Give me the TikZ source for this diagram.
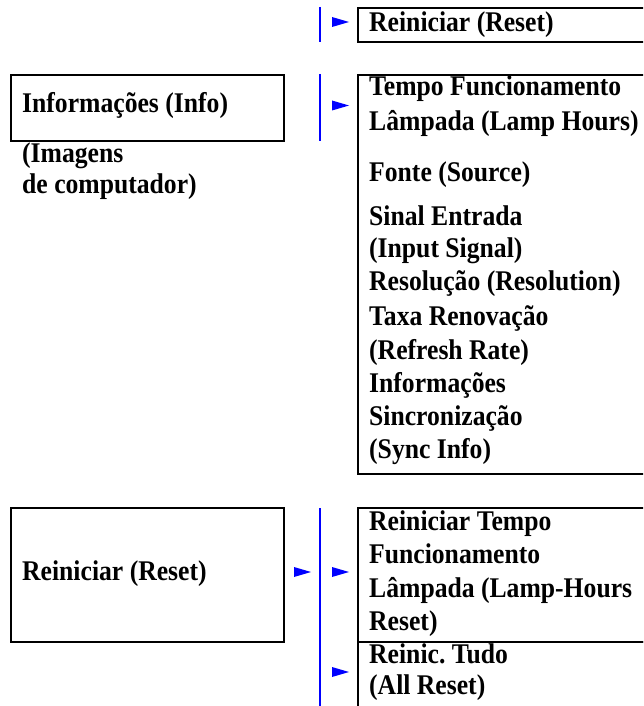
\documentclass[tikz,border=0pt]{standalone}
\usepackage{fontspec}
\setmainfont[FakeStretch=0.9]{Liberation Serif}
\frenchspacing
\begin{document}
\begin{tikzpicture}[x=1pt,y=-1pt,
  frame/.style={draw=black, line width=1.9pt, inner sep=0pt, anchor=north west},
  lbl/.style={anchor=base west, inner sep=0pt, font=\fontsize{28.5}{30}\selectfont\bfseries},
  bar/.style={draw=blue, line width=1.5pt},
  tri/.style={fill=blue, draw=none}]
\useasboundingbox (0,0) rectangle (643,706);
\clip (0,0) rectangle (643,706);
% ---------- top row ----------
\coordinate (b1t) at (320,7);
\coordinate (b1b) at (320,42);
\draw[bar] (b1t) -- (b1b);
\fill[tri] (332,17) -- (349,22) -- (332,27) -- cycle;
\node[frame, minimum width=320pt, minimum height=34pt] (rstbox) at (357,7) {};
\node[lbl] (rst) at (369,32) {Reiniciar (Reset)};
% ---------- info row ----------
\node[frame, minimum width=273pt, minimum height=66pt] (info) at (10,74) {};
\node[lbl] (infot) at (22,113) {Informações (Info)};
\node[lbl] (img1) at (22,162) {(Imagens};
\node[lbl] (img2) at (22,193) {de computador)};
\coordinate (b2t) at (320,74);
\coordinate (b2b) at (320,141);
\draw[bar] (b2t) -- (b2b);
\fill[tri] (332,100.5) -- (349,105.5) -- (332,110.5) -- cycle;
\node[frame, minimum width=320pt, minimum height=399pt] (infobox) at (357,74) {};
\node[lbl] (i1) at (369,96) {Tempo Funcionamento};
\node[lbl] (i2) at (369,130) {Lâmpada (Lamp Hours)};
\node[lbl] (i3) at (369,181) {Fonte (Source)};
\node[lbl] (i4) at (369,225) {Sinal Entrada};
\node[lbl] (i5) at (369,257) {(Input Signal)};
\node[lbl] (i6) at (369,290) {Resolução (Resolution)};
\node[lbl] (i7) at (369,325) {Taxa Renovação};
\node[lbl] (i8) at (369,359) {(Refresh Rate)};
\node[lbl] (i9) at (369,392) {Informações};
\node[lbl] (i10) at (369,425) {Sincronização};
\node[lbl] (i11) at (369,458) {(Sync Info)};
% ---------- reset row ----------
\node[frame, minimum width=273pt, minimum height=134pt] (reset) at (10,507) {};
\node[lbl] (resett) at (22,580) {Reiniciar (Reset)};
\fill[tri] (294,567) -- (311,572) -- (294,577) -- cycle;
\coordinate (b3t) at (320,508);
\coordinate (b3b) at (320,710);
\draw[bar] (b3t) -- (b3b);
\fill[tri] (332,567) -- (349,572) -- (332,577) -- cycle;
\fill[tri] (332,667) -- (349,672) -- (332,677) -- cycle;
\node[frame, minimum width=320pt, minimum height=134pt] (rbox1) at (357,507) {};
\node[frame, minimum width=320pt, minimum height=100pt] (rbox2) at (357,641) {};
\node[lbl] (r1) at (369,530) {Reiniciar Tempo};
\node[lbl] (r2) at (369,563) {Funcionamento};
\node[lbl] (r3) at (369,597) {Lâmpada (Lamp-Hours};
\node[lbl] (r4) at (369,630) {Reset)};
\node[lbl] (r5) at (369,663) {Reinic. Tudo};
\node[lbl] (r6) at (369,694) {(All Reset)};
\end{tikzpicture}
\end{document}
